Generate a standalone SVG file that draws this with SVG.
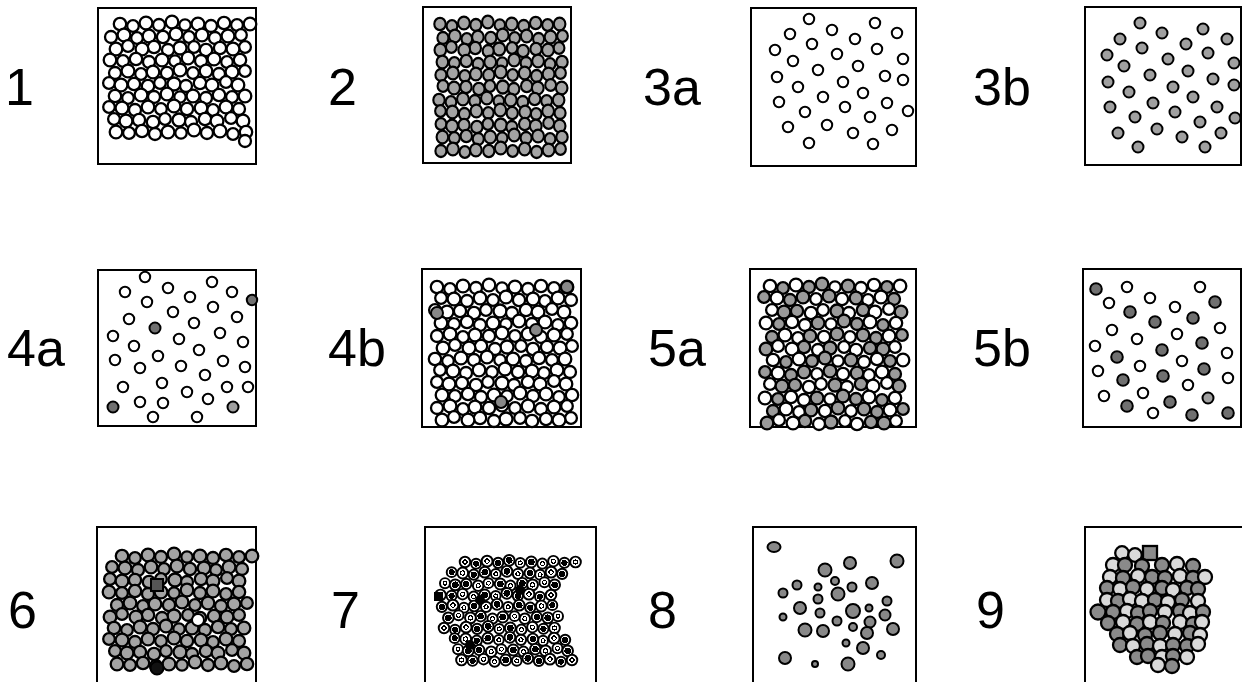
<svg xmlns="http://www.w3.org/2000/svg" xmlns:xlink="http://www.w3.org/1999/xlink" width="1242" height="682" viewBox="0 0 1242 682">
<style>
.b{fill:#fff;stroke:#000;stroke-width:2}
.u{stroke:#000;stroke-width:2.3}
.q{fill:var(--q)}
.w{fill:#fff}
.gr{fill:#a4a4a4}
.m5a{fill:#fff;--q:#9a9a9a}
.m7{fill:url(#ring);--q:url(#dot)}
.s{fill:#fff;stroke:#000;stroke-width:2}
.g{fill:#a0a0a0;stroke:#000;stroke-width:2}
.d{fill:#707070;stroke:#000;stroke-width:2}
.e{fill:#888;stroke:#000;stroke-width:2}
.E{fill:#8a8a8a;stroke:#000;stroke-width:2.3}
.L{fill:#d9d9d9;stroke:#000;stroke-width:2.3}
.l{font-family:"Liberation Sans",Arial,sans-serif;font-size:52px;fill:#000}
</style>
<defs>
<radialGradient id="ring">
<stop offset="0" stop-color="#fff"/><stop offset="0.28" stop-color="#fff"/><stop offset="0.28" stop-color="#000"/><stop offset="0.5" stop-color="#000"/><stop offset="0.5" stop-color="#fff"/><stop offset="1" stop-color="#fff"/>
</radialGradient>
<radialGradient id="dot">
<stop offset="0" stop-color="#000"/><stop offset="0.62" stop-color="#000"/><stop offset="0.62" stop-color="#fff"/><stop offset="1" stop-color="#fff"/>
</radialGradient>
<g id="A">
<circle cx="0" cy="0" r="6.2"/><circle class="q" cx="13" cy="2" r="5.8"/><circle cx="26" cy="-1" r="6.4"/><circle class="q" cx="39" cy="1" r="6"/><circle class="q" cx="52" cy="-2" r="6.3"/><circle cx="65" cy="1" r="5.7"/><circle class="q" cx="78" cy="0" r="6.4"/><circle cx="91" cy="2" r="6"/><circle cx="104" cy="-1" r="6.2"/><circle class="q" cx="117" cy="1" r="5.9"/><circle cx="130" cy="0" r="6.3"/>
</g>
<g id="B">
<circle class="q" cx="1" cy="1" r="6"/><circle cx="14" cy="-1" r="6.4"/><circle cx="27" cy="2" r="5.8"/><circle class="q" cx="39" cy="0" r="6.3"/><circle cx="53" cy="1" r="6.1"/><circle class="q" cx="66" cy="-2" r="6.4"/><circle cx="79" cy="1" r="5.8"/><circle class="q" cx="92" cy="-1" r="6.3"/><circle class="q" cx="105" cy="2" r="6"/><circle cx="118" cy="0" r="6.4"/><circle class="q" cx="131" cy="-1" r="5.8"/>
</g>
<g id="C">
<circle cx="0" cy="-1" r="5.9"/><circle class="q" cx="12" cy="1" r="6.4"/><circle class="q" cx="25" cy="0" r="6.1"/><circle cx="39" cy="2" r="6.2"/><circle cx="51" cy="-1" r="5.8"/><circle class="q" cx="65" cy="0" r="6.5"/><circle cx="77" cy="2" r="6"/><circle class="q" cx="91" cy="-1" r="6.2"/><circle cx="103" cy="1" r="6.4"/><circle cx="117" cy="-2" r="5.9"/><circle class="q" cx="129" cy="1" r="6.3"/>
</g>
</defs>
<rect width="1242" height="682" fill="#fff"/>

<g id="labels">
<text class="l" x="5" y="105">1</text>
<text class="l" x="328" y="105">2</text>
<text class="l" x="643" y="105">3a</text>
<text class="l" x="973" y="105">3b</text>
<text class="l" x="7" y="366">4a</text>
<text class="l" x="328" y="366">4b</text>
<text class="l" x="648" y="366">5a</text>
<text class="l" x="973" y="366">5b</text>
<text class="l" x="8" y="628">6</text>
<text class="l" x="331" y="628">7</text>
<text class="l" x="648" y="628">8</text>
<text class="l" x="976" y="628">9</text>
</g>

<g id="box1">
<rect class="b" x="98" y="8" width="158" height="156"/>
<g class="u w">
<use href="#A" x="120" y="24"/>
<use href="#B" x="110" y="36"/>
<use href="#C" transform="translate(245,48) scale(-1,1)"/>
<use href="#A" transform="translate(240,60) scale(-1,1)"/>
<use href="#B" x="114" y="72"/>
<use href="#C" x="109" y="84"/>
<use href="#A" x="115" y="96"/>
<use href="#B" transform="translate(240,108) scale(-1,1)"/>
<use href="#C" x="114" y="120"/>
<use href="#A" transform="translate(246,132) scale(-1,1)"/>
<circle cx="245" cy="141" r="6"/>
</g>
</g>

<g id="box2">
<rect class="b" x="423" y="7" width="148" height="156"/>
<g class="u gr">
<use href="#A" transform="translate(440,24) scale(0.92,1)"/>
<use href="#B" transform="translate(442,37) scale(0.92,1)"/>
<use href="#C" transform="translate(559,49) scale(-0.92,1)"/>
<use href="#A" transform="translate(562,62) scale(-0.92,1)"/>
<use href="#B" transform="translate(440,74) scale(0.92,1)"/>
<use href="#C" transform="translate(443,87) scale(0.92,1)"/>
<use href="#A" transform="translate(439,100) scale(0.92,1)"/>
<use href="#B" transform="translate(561,112) scale(-0.92,1)"/>
<use href="#C" transform="translate(441,125) scale(0.92,1)"/>
<use href="#A" transform="translate(562,137) scale(-0.92,1)"/>
<use href="#B" transform="translate(440,150) scale(0.92,1)"/>
</g>
</g>

<g id="box3a">
<rect class="b" x="751" y="8" width="165" height="158"/>
<g class="s">
<circle cx="809" cy="19" r="5.2"/><circle cx="832" cy="30" r="5.2"/><circle cx="875" cy="23" r="5.2"/><circle cx="790" cy="34" r="5.2"/><circle cx="855" cy="39" r="5.2"/><circle cx="897" cy="33" r="5.2"/><circle cx="812" cy="44" r="5.2"/><circle cx="775" cy="50" r="5.2"/><circle cx="877" cy="49" r="5.2"/><circle cx="793" cy="61" r="5.2"/><circle cx="837" cy="54" r="5.2"/><circle cx="903" cy="59" r="5.2"/><circle cx="818" cy="70" r="5.2"/><circle cx="858" cy="66" r="5.2"/><circle cx="777" cy="77" r="5.2"/><circle cx="885" cy="76" r="5.2"/><circle cx="903" cy="80" r="5.2"/><circle cx="798" cy="87" r="5.2"/><circle cx="843" cy="82" r="5.2"/><circle cx="823" cy="97" r="5.2"/><circle cx="863" cy="93" r="5.2"/><circle cx="779" cy="102" r="5.2"/><circle cx="887" cy="103" r="5.2"/><circle cx="805" cy="112" r="5.2"/><circle cx="845" cy="107" r="5.2"/><circle cx="908" cy="111" r="5.2"/><circle cx="870" cy="117" r="5.2"/><circle cx="788" cy="127" r="5.2"/><circle cx="827" cy="125" r="5.2"/><circle cx="892" cy="130" r="5.2"/><circle cx="853" cy="133" r="5.2"/><circle cx="809" cy="143" r="5.2"/><circle cx="873" cy="144" r="5.2"/>
</g>
</g>

<g id="box3b">
<rect class="b" x="1085" y="7" width="156" height="158"/>
<g class="g">
<circle cx="1140" cy="23" r="5.5"/><circle cx="1203" cy="29" r="5.5"/><circle cx="1162" cy="33" r="5.5"/><circle cx="1120" cy="39" r="5.5"/><circle cx="1227" cy="39" r="5.5"/><circle cx="1142" cy="48" r="5.5"/><circle cx="1186" cy="44" r="5.5"/><circle cx="1107" cy="55" r="5.5"/><circle cx="1208" cy="53" r="5.5"/><circle cx="1168" cy="59" r="5.5"/><circle cx="1124" cy="66" r="5.5"/><circle cx="1234" cy="63" r="5.5"/><circle cx="1188" cy="71" r="5.5"/><circle cx="1150" cy="75" r="5.5"/><circle cx="1108" cy="82" r="5.5"/><circle cx="1213" cy="79" r="5.5"/><circle cx="1234" cy="85" r="5.5"/><circle cx="1173" cy="87" r="5.5"/><circle cx="1129" cy="92" r="5.5"/><circle cx="1193" cy="97" r="5.5"/><circle cx="1153" cy="103" r="5.5"/><circle cx="1110" cy="107" r="5.5"/><circle cx="1217" cy="107" r="5.5"/><circle cx="1175" cy="112" r="5.5"/><circle cx="1135" cy="117" r="5.5"/><circle cx="1235" cy="118" r="5.5"/><circle cx="1200" cy="122" r="5.5"/><circle cx="1157" cy="129" r="5.5"/><circle cx="1118" cy="133" r="5.5"/><circle cx="1221" cy="133" r="5.5"/><circle cx="1182" cy="137" r="5.5"/><circle cx="1138" cy="147" r="5.5"/><circle cx="1205" cy="147" r="5.5"/>
</g>
</g>

<g id="box4a">
<rect class="b" x="98" y="270" width="158" height="156"/>
<g class="s">
<circle cx="145" cy="277" r="5.2"/><circle cx="168" cy="288" r="5.2"/><circle cx="212" cy="282" r="5.2"/><circle cx="125" cy="292" r="5.2"/><circle cx="190" cy="297" r="5.2"/><circle cx="232" cy="292" r="5.2"/><circle cx="147" cy="302" r="5.2"/><circle cx="173" cy="312" r="5.2"/><circle cx="213" cy="307" r="5.2"/><circle cx="129" cy="319" r="5.2"/><circle cx="194" cy="323" r="5.2"/><circle cx="237" cy="317" r="5.2"/><circle cx="113" cy="336" r="5.2"/><circle cx="220" cy="333" r="5.2"/><circle cx="179" cy="339" r="5.2"/><circle cx="243" cy="342" r="5.2"/><circle cx="134" cy="346" r="5.2"/><circle cx="199" cy="350" r="5.2"/><circle cx="158" cy="356" r="5.2"/><circle cx="115" cy="360" r="5.2"/><circle cx="223" cy="361" r="5.2"/><circle cx="140" cy="368" r="5.2"/><circle cx="181" cy="366" r="5.2"/><circle cx="245" cy="367" r="5.2"/><circle cx="205" cy="375" r="5.2"/><circle cx="162" cy="383" r="5.2"/><circle cx="123" cy="387" r="5.2"/><circle cx="227" cy="387" r="5.2"/><circle cx="248" cy="387" r="5.2"/><circle cx="187" cy="392" r="5.2"/><circle cx="140" cy="402" r="5.2"/><circle cx="208" cy="399" r="5.2"/><circle cx="163" cy="403" r="5.2"/><circle cx="153" cy="417" r="5.2"/><circle cx="197" cy="417" r="5.2"/>
</g>
<circle class="d" cx="252" cy="300" r="5.2"/>
<circle class="d" cx="155" cy="328" r="5.5"/>
<circle class="d" cx="113" cy="407" r="5.5"/>
<circle class="g" cx="233" cy="407" r="5.5"/>
</g>

<g id="box4b">
<rect class="b" x="422" y="269" width="159" height="158"/>
<g class="u w">
<use href="#A" x="437" y="287"/>
<use href="#B" transform="translate(572,299) scale(-1,1)"/>
<use href="#C" x="435" y="311"/>
<use href="#A" transform="translate(571,323) scale(-1,1)"/>
<use href="#B" x="436" y="335"/>
<use href="#C" transform="translate(572,347) scale(-1,1)"/>
<use href="#A" x="435" y="359"/>
<use href="#B" transform="translate(571,371) scale(-1,1)"/>
<use href="#C" x="437" y="383"/>
<use href="#A" transform="translate(572,395) scale(-1,1)"/>
<use href="#B" x="436" y="407"/>
<use href="#C" transform="translate(571,419) scale(-1,1)"/>
</g>
<circle class="e" cx="567" cy="287" r="6"/>
<circle class="e" cx="437" cy="313" r="6"/>
<circle class="e" cx="536" cy="330" r="6"/>
<circle class="e" cx="501" cy="402" r="6"/>
</g>

<g id="box5a">
<rect class="b" x="750" y="269" width="166" height="158"/>
<g class="u m5a">
<use href="#A" x="770" y="286"/>
<use href="#B" transform="translate(895,298) scale(-1,1)"/>
<use href="#C" x="772" y="311"/>
<use href="#A" transform="translate(896,323) scale(-1,1)"/>
<use href="#B" x="771" y="336"/>
<use href="#C" transform="translate(895,348) scale(-1,1)"/>
<use href="#A" x="773" y="360"/>
<use href="#B" transform="translate(896,373) scale(-1,1)"/>
<use href="#C" x="770" y="385"/>
<use href="#A" transform="translate(895,398) scale(-1,1)"/>
<use href="#B" x="772" y="410"/>
<use href="#C" transform="translate(896,422) scale(-1,1)"/>
</g>
</g>

<g id="box5b">
<rect class="b" x="1083" y="269" width="158" height="158"/>
<g class="s">
<circle cx="1127" cy="287" r="5.2"/><circle cx="1200" cy="287" r="5.2"/><circle cx="1109" cy="303" r="5.2"/><circle cx="1150" cy="298" r="5.2"/><circle cx="1175" cy="307" r="5.2"/><circle cx="1112" cy="330" r="5.2"/><circle cx="1220" cy="328" r="5.2"/><circle cx="1177" cy="334" r="5.2"/><circle cx="1137" cy="339" r="5.2"/><circle cx="1095" cy="346" r="5.2"/><circle cx="1227" cy="353" r="5.2"/><circle cx="1182" cy="361" r="5.2"/><circle cx="1140" cy="366" r="5.2"/><circle cx="1098" cy="371" r="5.2"/><circle cx="1228" cy="378" r="5.2"/><circle cx="1188" cy="385" r="5.2"/><circle cx="1143" cy="393" r="5.2"/><circle cx="1104" cy="396" r="5.2"/><circle cx="1153" cy="413" r="5.2"/>
</g>
<g class="d">
<circle cx="1096" cy="289" r="5.8"/><circle cx="1215" cy="302" r="5.8"/><circle cx="1130" cy="312" r="5.8"/><circle cx="1193" cy="318" r="5.8"/><circle cx="1155" cy="322" r="5.8"/><circle cx="1202" cy="343" r="5.8"/><circle cx="1162" cy="350" r="5.8"/><circle cx="1117" cy="357" r="5.8"/><circle cx="1204" cy="369" r="5.8"/><circle cx="1163" cy="376" r="5.8"/><circle cx="1123" cy="380" r="5.8"/><circle cx="1170" cy="402" r="5.8"/><circle cx="1127" cy="406" r="5.8"/><circle cx="1192" cy="415" r="5.8"/><circle cx="1228" cy="413" r="5.8"/>
</g>
<circle class="g" cx="1208" cy="398" r="5.5"/>
</g>

<g id="box6">
<rect class="b" x="97" y="527" width="159" height="170"/>
<g class="u gr">
<use href="#A" x="122" y="556"/>
<use href="#B" transform="translate(243,568) scale(-1,1)"/>
<use href="#C" x="110" y="580"/>
<use href="#A" transform="translate(239,592) scale(-1,1)"/>
<use href="#B" x="116" y="604"/>
<use href="#C" transform="translate(239,616) scale(-1,1)"/>
<use href="#A" x="114" y="628"/>
<use href="#B" transform="translate(240,640) scale(-1,1)"/>
<use href="#C" x="115" y="652"/>
<use href="#A" transform="translate(247,664) scale(-1,1)"/>
</g>
<rect x="151" y="579" width="12" height="12" fill="#555" stroke="#000" stroke-width="2"/>
<circle cx="198" cy="620" r="6" fill="#fff" stroke="#000" stroke-width="2"/>
<circle cx="157" cy="668" r="6.5" fill="#111" stroke="#000" stroke-width="2"/>
</g>

<g id="box7">
<rect class="b" x="425" y="527" width="171" height="170"/>
<g class="u m7">
<use href="#A" transform="translate(465,562) scale(0.85)"/>
<use href="#B" transform="translate(563,573) scale(-0.85,0.85)"/>
<use href="#C" transform="translate(445,584) scale(0.85)"/>
<use href="#A" transform="translate(551,595) scale(-0.85,0.85)"/>
<use href="#B" transform="translate(441,606) scale(0.85)"/>
<use href="#C" transform="translate(558,617) scale(-0.85,0.85)"/>
<use href="#A" transform="translate(444,628) scale(0.85)"/>
<use href="#B" transform="translate(566,639) scale(-0.85,0.85)"/>
<use href="#C" transform="translate(458,650) scale(0.85)"/>
<use href="#A" transform="translate(572,660) scale(-0.85,0.85)"/>
</g>
<rect x="434" y="592" width="9" height="9" fill="#000"/>
<circle cx="480" cy="600" r="5" fill="#000"/>
<circle cx="520" cy="590" r="5" fill="#000"/>
<circle cx="470" cy="645" r="5" fill="#000"/>
</g>

<g id="box8">
<rect class="b" x="753" y="527" width="163" height="170"/>
<g class="e">
<ellipse cx="774" cy="547" rx="6.5" ry="5"/>
<circle cx="897" cy="561" r="6.5"/><circle cx="850" cy="563" r="6"/><circle cx="825" cy="570" r="6.5"/><circle cx="835" cy="581" r="4"/><circle cx="872" cy="583" r="6"/><circle cx="797" cy="585" r="4.5"/><circle cx="818" cy="587" r="3.5"/><circle cx="852" cy="587" r="4.5"/><circle cx="783" cy="593" r="4.5"/><circle cx="838" cy="594" r="6.5"/><circle cx="818" cy="599" r="4.5"/><circle cx="887" cy="601" r="4.5"/><circle cx="800" cy="608" r="6"/><circle cx="853" cy="611" r="7"/><circle cx="869" cy="608" r="3.5"/><circle cx="820" cy="613" r="4.5"/><circle cx="885" cy="615" r="5.5"/><circle cx="783" cy="617" r="3.5"/><circle cx="837" cy="621" r="4.5"/><circle cx="870" cy="622" r="5.5"/><circle cx="853" cy="627" r="4"/><circle cx="805" cy="630" r="6.5"/><circle cx="823" cy="631" r="6"/><circle cx="893" cy="629" r="6"/><circle cx="867" cy="633" r="6"/><circle cx="846" cy="643" r="3.5"/><circle cx="863" cy="648" r="6"/><circle cx="881" cy="655" r="4"/><circle cx="785" cy="658" r="6"/><circle cx="815" cy="664" r="3"/><circle cx="848" cy="664" r="6.5"/>
</g>
</g>

<g id="box9">
<rect class="b" x="1085" y="527" width="170" height="170"/>
<circle class="L" cx="1122" cy="553" r="6.8"/><circle class="L" cx="1135" cy="555" r="6.8"/><rect class="E" x="1143" y="546" width="14" height="14"/>
<circle class="L" cx="1113" cy="565" r="7"/><circle class="E" cx="1125" cy="565" r="7"/><circle class="E" cx="1142" cy="566" r="7"/><circle class="E" cx="1162" cy="565" r="7"/><circle class="L" cx="1177" cy="564" r="7"/><circle class="E" cx="1193" cy="566" r="7"/>
<circle class="L" cx="1110" cy="577" r="7"/><circle class="E" cx="1123" cy="578" r="7"/><circle class="L" cx="1138" cy="576" r="7"/><circle class="E" cx="1152" cy="577" r="7"/><circle class="E" cx="1165" cy="578" r="7"/><circle class="L" cx="1180" cy="576" r="7"/><circle class="E" cx="1193" cy="578" r="7"/><circle class="L" cx="1205" cy="577" r="7"/>
<circle class="E" cx="1107" cy="588" r="7"/><circle class="L" cx="1120" cy="589" r="7"/><circle class="E" cx="1133" cy="587" r="7"/><circle class="L" cx="1147" cy="589" r="7"/><circle class="E" cx="1162" cy="588" r="7"/><circle class="L" cx="1173" cy="590" r="7"/><circle class="E" cx="1187" cy="588" r="7"/><circle class="E" cx="1198" cy="589" r="7"/>
<circle class="L" cx="1107" cy="600" r="7"/><circle class="E" cx="1118" cy="601" r="7"/><circle class="L" cx="1130" cy="599" r="7"/><circle class="L" cx="1142" cy="601" r="7"/><circle class="E" cx="1155" cy="600" r="7"/><circle class="L" cx="1168" cy="602" r="7"/><circle class="E" cx="1182" cy="600" r="7"/><circle class="L" cx="1198" cy="601" r="7"/>
<circle class="E" cx="1098" cy="612" r="7.5"/><circle class="E" cx="1113" cy="612" r="7"/><circle class="L" cx="1127" cy="611" r="7"/><circle class="E" cx="1138" cy="613" r="7"/><circle class="E" cx="1150" cy="611" r="7"/><circle class="L" cx="1165" cy="612" r="7"/><circle class="E" cx="1180" cy="611" r="7"/><circle class="L" cx="1190" cy="613" r="7"/><circle class="E" cx="1203" cy="612" r="7"/>
<circle class="E" cx="1108" cy="623" r="7"/><circle class="L" cx="1123" cy="622" r="7"/><circle class="E" cx="1137" cy="624" r="7"/><circle class="L" cx="1150" cy="622" r="7"/><circle class="E" cx="1163" cy="623" r="7"/><circle class="L" cx="1180" cy="622" r="7"/><circle class="E" cx="1193" cy="624" r="7"/><circle class="L" cx="1202" cy="622" r="7"/>
<circle class="E" cx="1117" cy="634" r="7"/><circle class="L" cx="1130" cy="633" r="7"/><circle class="E" cx="1145" cy="635" r="7"/><circle class="E" cx="1160" cy="633" r="7"/><circle class="L" cx="1175" cy="634" r="7"/><circle class="E" cx="1190" cy="633" r="7"/><circle class="L" cx="1200" cy="635" r="7"/>
<circle class="E" cx="1120" cy="645" r="7"/><circle class="L" cx="1133" cy="646" r="7"/><circle class="E" cx="1147" cy="644" r="7"/><circle class="L" cx="1160" cy="646" r="7"/><circle class="E" cx="1173" cy="645" r="7"/><circle class="E" cx="1187" cy="646" r="7"/><circle class="L" cx="1198" cy="644" r="7"/>
<circle class="E" cx="1137" cy="657" r="7"/><circle class="E" cx="1148" cy="656" r="7"/><circle class="L" cx="1162" cy="657" r="7"/><circle class="E" cx="1173" cy="656" r="7"/><circle class="L" cx="1187" cy="657" r="7"/>
<circle class="L" cx="1158" cy="665" r="7"/><circle class="E" cx="1172" cy="666" r="7"/>
</g>
</svg>
